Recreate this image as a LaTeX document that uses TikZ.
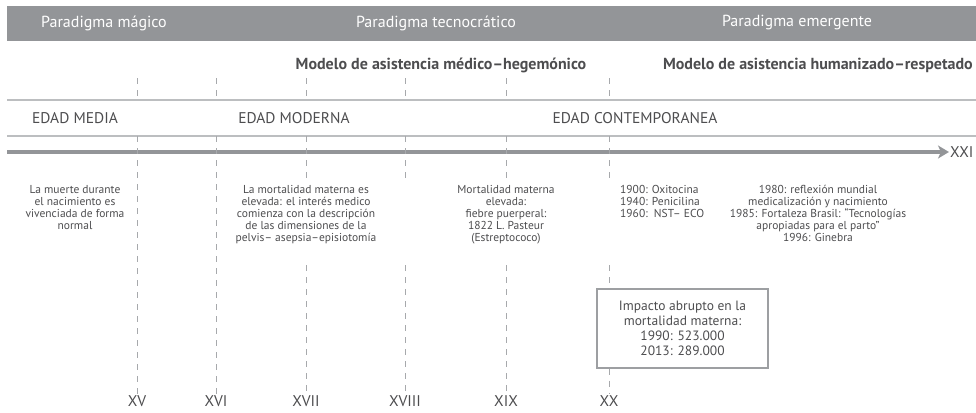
\documentclass[tikz,border=0pt]{standalone}
\usepackage{fontspec}
\setmainfont{PT Sans}
\usetikzlibrary{arrows.meta}
\definecolor{bargray}{HTML}{939598}
\definecolor{rulegray}{HTML}{BCBEC0}
\definecolor{dashgray}{HTML}{A7A9AC}
\definecolor{boxgray}{HTML}{9D9FA2}
\definecolor{inkgray}{HTML}{4D4D4F}
\tikzset{
  paradigm/.style={text=white,font=\fontsize{16}{18}\selectfont,inner sep=0pt},
  model/.style={text=inkgray,font=\bfseries\fontsize{16}{18}\selectfont,inner sep=0pt},
  era/.style={text=inkgray,font=\fontsize{15.5}{18}\selectfont,inner sep=0pt},
  century/.style={text=inkgray,font=\fontsize{15.5}{18}\selectfont,inner sep=1pt},
  note/.style={text=inkgray,font=\fontsize{11.5}{12}\selectfont,align=center,inner sep=0pt,anchor=north},
  guide/.style={dashgray,line width=0.7pt,dash pattern=on 6pt off 6pt},
  thinrule/.style={rulegray,line width=1.2pt},
}

\begin{document}
\begin{tikzpicture}[x=1pt,y=-1pt]
  \useasboundingbox (0,0) rectangle (976,412);
  \fill[bargray] (7,6) rectangle (976,41);
  \node[paradigm] (magico) at (104,23) {Paradigma mágico};
  \node[paradigm] (tecno) at (436,23) {Paradigma tecnocrático};
  \node[paradigm] (emergente) at (797,23) {Paradigma emergente};
  \node[model] (hegemonico) at (441,65) {Modelo de asistencia médico–hegemónico};
  \node[model,anchor=east] (humanizado) at (973,65) {Modelo de asistencia humanizado–respetado};

  \draw[thinrule] (7,100) -- (976,100);
  \draw[thinrule] (7,136) -- (976,136);
  \node[era] (media) at (75,118) {EDAD MEDIA};
  \node[era] (moderna) at (294,118) {EDAD MODERNA};
  \node[era] (contemp) at (635,118) {EDAD CONTEMPORANEA};

  \node[century,anchor=west] (xxi) at (949,152) {XXI};
  \coordinate (origen) at (7,152);
  \draw[bargray,line width=4pt,-{Stealth[length=11pt,width=13pt,inset=3pt]}] (origen) -- (xxi.west);

  \foreach \c/\x/\r in {xv/137/XV,xvi/216/XVI,xvii/306/XVII,xviii/405/XVIII,xix/506/XIX,xx/609/XX}
    \node[century] (\c) at (\x,401) {\r};

  \foreach \x in {137,216,306,405,506,609}
    \draw[guide] (\x,78) -- (\x,100);
  \foreach \c in {xv,xvi}
    \draw[guide] (\c |- 0,136) -- (\c.north);
  \foreach \c in {xvii,xviii,xix}{
    \draw[guide] (\c |- 0,136) -- (\c |- 0,178);
    \draw[guide] (\c |- 0,265) -- (\c.north);
  }

  \node[note] (muerte) at (75,185) {La muerte durante\\el nacimiento es\\vivenciada de forma\\normal};
  \node[note] (pelvis) at (306,185) {La mortalidad materna es\\elevada: el interés medico\\comienza con la descripción\\de las dimensiones de la\\pelvis– asepsia–episiotomía};
  \node[note] (pasteur) at (506,185) {Mortalidad materna\\elevada:\\fiebre puerperal:\\1822 L. Pasteur\\(Estreptococo)};
  \node[note,align=left,anchor=north west] (farmacos) at (620,185) {1900: Oxitocina\\1940: Penicilina\\1960:\ \ NST– ECO};
  \node[note] (ginebra) at (818,185) {1980: reflexión mundial\\medicalización y nacimiento\\1985: Fortaleza Brasil: “Tecnologías\\apropiadas para el parto”\\1996: Ginebra};

  \node[draw=boxgray,line width=1.2pt,text=inkgray,font=\fontsize{13.5}{15}\selectfont,
        align=center,minimum width=171pt,minimum height=79pt] (impacto) at (682.5,328.5)
        {Impacto abrupto en la\\mortalidad materna:\\1990: 523.000\\2013: 289.000};

  \draw[guide] (xx |- 0,136) -- (xx |- 0,178);
  \draw[guide] (xx |- 0,265) -- (xx |- impacto.north);
  \draw[guide] (xx |- impacto.south) -- (xx.north);
\end{tikzpicture}
\end{document}
